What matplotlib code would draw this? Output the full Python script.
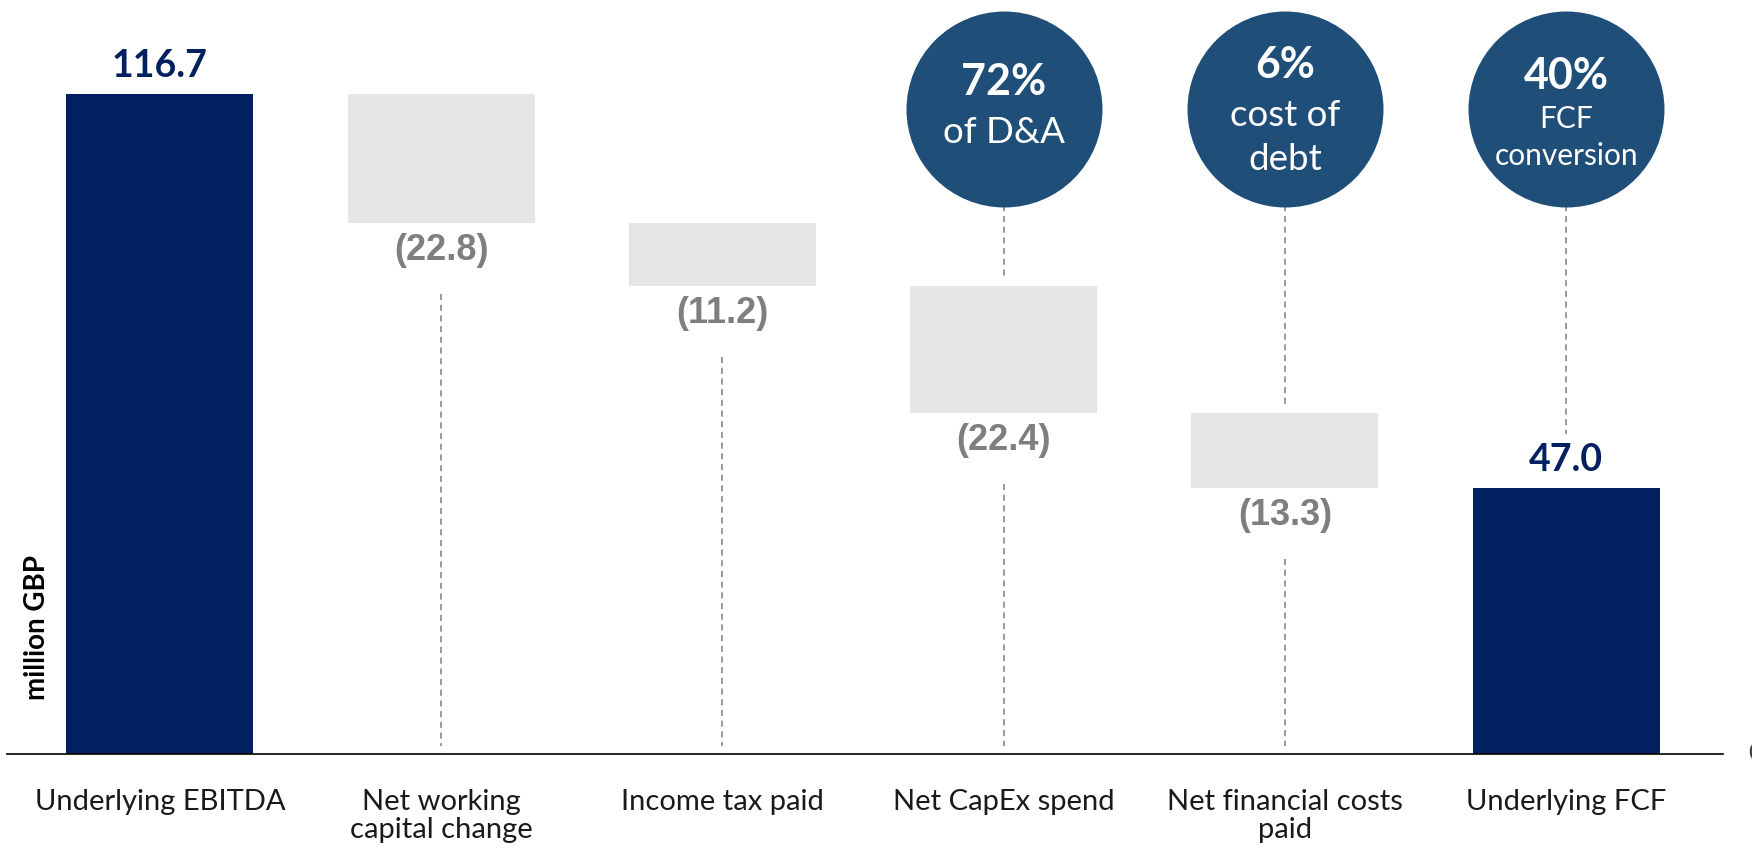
import matplotlib.pyplot as plt

# Free cash flow bridge, million GBP
categories = ["Underlying EBITDA", "Net working\ncapital change", "Income tax paid",
              "Net CapEx spend", "Net financial costs\npaid", "Underlying FCF"]
start_value = 116.7
deductions = [22.8, 11.2, 22.4, 13.3]
end_value = 47.0

# Call-out bubbles: bar index, headline, lines of sub text, sub font size
bubble_bars = [3, 4, 5]
bubble_heads = ["72%", "6%", "40%"]
bubble_subs = [["of D&A"], ["cost of", "debt"], ["FCF", "conversion"]]
bubble_sub_sizes = [26.5, 26.5, 21.5]

NAVY = "#002060"
BUBBLE = "#1F4E79"
BOX = "#E6E6E6"
GREY = "#7F7F7F"

W, H, DPI = 1752, 851, 100
PT = 72 / DPI  # pixels -> points

fig = plt.figure(figsize=(W / DPI, H / DPI), dpi=DPI)
ax = fig.add_axes([7 / W, (H - 754) / H, (1723 - 7) / W, 754 / H])
ax.set_xlim(-0.544, 5.558)
ax.set_ylim(0, 133.3)
for s in ["top", "right", "left"]:
    ax.spines[s].set_visible(False)
ax.spines["bottom"].set_linewidth(1.2)
ax.spines["bottom"].set_color("black")
ax.set_yticks([])

bw = 0.665
x = list(range(len(categories)))

# totals
ax.bar(x[0], start_value, width=bw, color=NAVY, zorder=2)
ax.bar(x[-1], end_value, width=bw, color=NAVY, zorder=2)
for xi, v in [(x[0], start_value), (x[-1], end_value)]:
    ax.annotate(f"{v:.1f}", (xi, v), xytext=(0, 8), textcoords="offset points",
                ha="center", va="bottom", fontsize=27, fontweight="bold",
                color=NAVY, family="Lato")

# floating deductions
level = start_value
tops = {}
for i, d in enumerate(deductions, start=1):
    bottom = level - d
    ax.bar(i, d, bottom=bottom, width=bw, color=BOX, zorder=2)
    ax.annotate(f"({d:.1f})", (i, bottom), xytext=(0, -7), textcoords="offset points",
                ha="center", va="top", fontsize=26, fontweight="bold",
                color=GREY, family="Liberation Sans")
    # dashed guide down to the axis
    ax.plot([i, i], [bottom - 12.5, 1.4], ls=(0, (4, 3)), lw=1.1, color=GREY, zorder=1)
    tops[i] = level
    level = bottom
tops[x[-1]] = end_value + 9.5

# bubbles with a dashed connector down to their bar
bubble_y = 114.0
for i, head, sub, subsize in zip(bubble_bars, bubble_heads, bubble_subs,
                                 bubble_sub_sizes):
    ax.scatter([i], [bubble_y], s=19910, color=BUBBLE, zorder=4, clip_on=False,
               linewidths=0)
    gap = 1.5 if i < x[-1] else 0
    ax.plot([i, i], [bubble_y, tops[i] + gap], ls=(0, (4, 3)), lw=1.1,
            color=GREY, zorder=3)
    if len(sub) == 1:
        head_dy, sub_dy = -27, [23]
    elif subsize > 22:
        head_dy, sub_dy = -44, [6, 50]
    else:
        head_dy, sub_dy = -33, [10, 47]
    ax.annotate(head, (i, bubble_y), xytext=(0, -head_dy * PT),
                textcoords="offset points", ha="center", va="center",
                fontsize=31, fontweight="bold", color="white", family="Lato",
                zorder=5)
    for line, dy in zip(sub, sub_dy):
        ax.annotate(line, (i, bubble_y), xytext=(0, -dy * PT),
                    textcoords="offset points", ha="center", va="center",
                    fontsize=subsize, color="white", family="Lato", zorder=5)

ax.set_xticks(x)
ax.set_xticklabels(categories, fontsize=21, family="Lato", linespacing=1.12,
                   color="#1a1a1a")
ax.tick_params(axis="x", length=0, pad=25)

fig.text(37 / W, 1 - 627 / H, "million GBP", rotation=90, ha="center", va="center",
         fontsize=20, fontweight="bold", family="Lato")
fig.text(1748 / W, 1 - 753 / H, "0", ha="left", va="center", fontsize=17,
         family="Lato", color="#404040")

fig.savefig("out.png", dpi=DPI)
